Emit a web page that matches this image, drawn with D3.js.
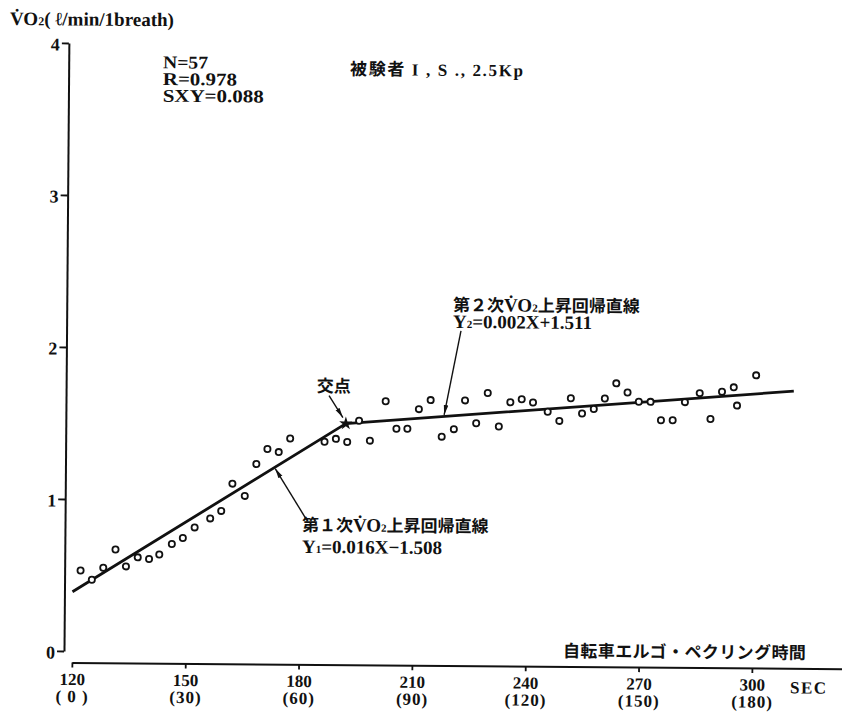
<!DOCTYPE html>
<html>
<head>
<meta charset="utf-8">
<script src="https://cdn.jsdelivr.net/npm/d3@7"></script>
<style>
  html, body { margin: 0; padding: 0; background: #fff; }
  svg { display: block; }
</style>
</head>
<body>
<svg id="chart" width="842" height="716"></svg>
<script>
// Breath-by-breath samples: ergometer time (sec) and VO2 per breath (l/min/1breath)
const breathSec = [122.1, 125.1, 128.1, 131.3, 134.1, 137.2, 140.2, 142.9, 146.2, 149.1,
  152.2, 156.3, 159.2, 162.1, 165.4, 168.4, 171.3, 174.3, 177.3, 186.4,
  189.4, 192.4, 195.5, 198.4, 202.5, 205.4, 208.3, 211.3, 214.4, 217.4,
  220.6, 223.5, 226.5, 229.5, 232.5, 235.5, 238.5, 241.5, 245.4, 248.5,
  251.5, 254.5, 257.6, 260.5, 263.5, 266.5, 269.5, 272.6, 275.4, 278.5,
  281.7, 285.6, 288.5, 291.5, 294.6, 295.5, 300.5];
const vo2 = [0.53, 0.47, 0.55, 0.67, 0.56, 0.62, 0.61, 0.64, 0.71, 0.75,
  0.82, 0.88, 0.93, 1.11, 1.03, 1.24, 1.34, 1.32, 1.41, 1.39,
  1.41, 1.39, 1.53, 1.40, 1.66, 1.48, 1.48, 1.61, 1.67, 1.43,
  1.48, 1.67, 1.52, 1.72, 1.50, 1.66, 1.68, 1.66, 1.60, 1.54,
  1.69, 1.59, 1.62, 1.69, 1.79, 1.73, 1.67, 1.67, 1.55, 1.55,
  1.67, 1.73, 1.56, 1.74, 1.77, 1.65, 1.85];

// Two-phase regression: start, intersection (交点), end
const fitSec = [120, 192, 310.5];
const fitVo2 = [0.39, 1.511, 1.748];

const yTicks = [0, 1, 2, 3, 4];
const xTicks = [120, 150, 180, 210, 240, 270, 300];
const xTickSub = ["( 0 )", "(30)", "(60)", "(90)", "(120)", "(150)", "(180)"];
const statLines = ["N=57", "R=0.978", "SXY=0.088"];
const statWidths = [45, 74, 101];
const titleText = "被験者 I , S ., 2.5Kp";
const xTitle = "自転車エルゴ・ペクリング時間";
const xUnit = "SEC";

const FONT = "'Liberation Serif', 'Noto Sans CJK JP', serif";
const CJK = "'Noto Sans CJK JP', 'Liberation Serif', serif";

const svg = d3.select("#chart");
// the printed figure sits at a slight clockwise tilt
const g = svg.append("g").attr("transform", "rotate(0.46, 63.5, 650)");

const x = d3.scaleLinear().domain([120, 324]).range([72, 842.7]);
const y = d3.scaleLinear().domain([0, 4]).range([651, 43]);
const fitAt = d3.scaleLinear().domain(fitSec).range(fitVo2);

const defs = svg.append("defs");
defs.append("marker")
  .attr("id", "tip")
  .attr("viewBox", "0 -3 10 6")
  .attr("markerUnits", "userSpaceOnUse")
  .attr("markerWidth", 10).attr("markerHeight", 6)
  .attr("refX", 10).attr("refY", 0)
  .attr("orient", "auto")
  .append("path").attr("d", "M0,-2.3L10,0L0,2.3Z").attr("fill", "#111");

// ---- y axis ----
const yAxis = g.append("g").attr("transform", "translate(64,0)")
  .call(d3.axisLeft(y).tickValues(yTicks).tickSize(7).tickPadding(2).tickSizeOuter(0).tickFormat(d3.format("d")));
yAxis.attr("font-family", FONT).attr("font-size", 18).attr("font-weight", "bold");
yAxis.select(".domain").attr("stroke", "#111").attr("stroke-width", 2);
yAxis.selectAll(".tick line").attr("stroke", "#111").attr("stroke-width", 1.8);
yAxis.selectAll(".tick text").attr("fill", "#111").attr("dy", "0.4em");

// ---- x axis ----
const xAxis = g.append("g").attr("transform", "translate(0,662.5)")
  .call(d3.axisBottom(x).tickValues(xTicks).tickSize(5).tickSizeOuter(0));
xAxis.attr("font-family", FONT).attr("font-size", 17).attr("font-weight", "bold");
xAxis.select(".domain").attr("stroke", "#111").attr("stroke-width", 2);
xAxis.selectAll(".tick line").attr("stroke", "#111").attr("stroke-width", 1.8);
xAxis.selectAll(".tick text").each(function (d, i) {
  const t = d3.select(this).text("").attr("y", null).attr("dy", null).attr("fill", "#111");
  t.append("tspan").attr("x", 0).attr("y", 22.5).text(d);
  t.append("tspan").attr("x", 0).attr("y", 39.5).attr("letter-spacing", 1).text(xTickSub[i]);
});

// axis captions
g.append("text")
  .attr("x", 5).attr("y", 25.4)
  .attr("font-family", FONT).attr("font-size", 19).attr("font-weight", "bold").attr("fill", "#111")
  .call(t => {
    t.append("tspan").text("V\u0307O");
    t.append("tspan").attr("font-size", 12).text("2");
    t.append("tspan").text("( \u2113/min/1breath)");
  });

g.append("text")
  .attr("x", 563).attr("y", 653)
  .attr("font-family", CJK).attr("font-size", 17).attr("font-weight", "bold").attr("fill", "#111")
  .attr("letter-spacing", 0.4)
  .text(xTitle);

g.append("text")
  .attr("x", 790.3).attr("y", 687.5)
  .attr("font-family", FONT).attr("font-size", 17).attr("font-weight", "bold").attr("fill", "#111")
  .attr("letter-spacing", 1.5)
  .text(xUnit);

// ---- statistics and title ----
g.append("g").selectAll("text").data(statLines).join("text")
  .attr("x", 158.3).attr("y", (d, i) => 67.5 + i * 16.7)
  .attr("font-family", FONT).attr("font-size", 18).attr("font-weight", "bold").attr("fill", "#111")
  .attr("textLength", (d, i) => statWidths[i])
  .attr("lengthAdjust", "spacingAndGlyphs")
  .text(d => d);

g.append("text")
  .attr("x", 345.4).attr("y", 72.7)
  .attr("font-family", FONT).attr("font-size", 17).attr("font-weight", "bold").attr("fill", "#111")
  .attr("textLength", 173)
  .text(titleText);

// ---- regression lines ----
const fitPts = fitSec.map((s, i) => [s, fitVo2[i]]);
g.append("path")
  .datum(fitPts)
  .attr("d", d3.line().x(d => x(d[0])).y(d => y(d[1])))
  .attr("fill", "none").attr("stroke", "#111").attr("stroke-width", 2.8)
  .attr("stroke-linejoin", "round");

// ---- breath samples ----
g.append("g").selectAll("circle").data(breathSec).join("circle")
  .attr("cx", d => x(d))
  .attr("cy", (d, i) => y(vo2[i]))
  .attr("r", 3.1)
  .attr("fill", "#fff").attr("stroke", "#111").attr("stroke-width", 1.8);

// intersection star
g.append("path")
  .attr("transform", `translate(${x(fitSec[1])},${y(fitVo2[1])})`)
  .attr("d", d3.symbol(d3.symbolStar, 55)())
  .attr("fill", "#111");

// ---- annotations ----
function arrow(x1, y1, x2, y2) {
  g.append("line")
    .attr("x1", x1).attr("y1", y1).attr("x2", x2).attr("y2", y2)
    .attr("stroke", "#111").attr("stroke-width", 1.4)
    .attr("marker-end", "url(#tip)");
}

// first-phase line label
arrow(305.7, 518.1, x(173.4), y(fitAt(173.4)) + 1.5);
g.append("text")
  .attr("x", 301).attr("y", 529.1)
  .attr("font-family", CJK).attr("font-size", 17).attr("font-weight", "bold").attr("fill", "#111")
  .call(t => {
    t.append("tspan").text("第１次");
    t.append("tspan").attr("font-family", FONT).attr("font-size", 19).text("V\u0307O");
    t.append("tspan").attr("font-family", FONT).attr("font-size", 11).text("2");
    t.append("tspan").text("上昇回帰直線");
  });
g.append("text")
  .attr("x", 301.2).attr("y", 551.1)
  .attr("font-family", FONT).attr("font-size", 19).attr("font-weight", "bold").attr("fill", "#111")
  .call(t => {
    t.append("tspan").text("Y");
    t.append("tspan").attr("font-size", 11).text("1");
    t.append("tspan").text("=0.016X\u22121.508");
  });

// second-phase line label
arrow(458.4, 327.8, x(218), y(fitAt(218)) - 1.5);
g.append("text")
  .attr("x", 450.3).attr("y", 307.9)
  .attr("font-family", CJK).attr("font-size", 17).attr("font-weight", "bold").attr("fill", "#111")
  .call(t => {
    t.append("tspan").text("第２次");
    t.append("tspan").attr("font-family", FONT).attr("font-size", 19).text("V\u0307O");
    t.append("tspan").attr("font-family", FONT).attr("font-size", 11).text("2");
    t.append("tspan").text("上昇回帰直線");
  });
g.append("text")
  .attr("x", 450.4).attr("y", 324.9)
  .attr("font-family", FONT).attr("font-size", 19).attr("font-weight", "bold").attr("fill", "#111")
  .call(t => {
    t.append("tspan").text("Y");
    t.append("tspan").attr("font-size", 11).text("2");
    t.append("tspan").text("=0.002X+1.511");
  });

// intersection label
arrow(327, 393.5, x(fitSec[1]) - 3, y(fitVo2[1]) - 6);
g.append("text")
  .attr("x", 314.6).attr("y", 390)
  .attr("font-family", CJK).attr("font-size", 17).attr("font-weight", "bold").attr("fill", "#111")
  .text("交点");
</script>
</body>
</html>
